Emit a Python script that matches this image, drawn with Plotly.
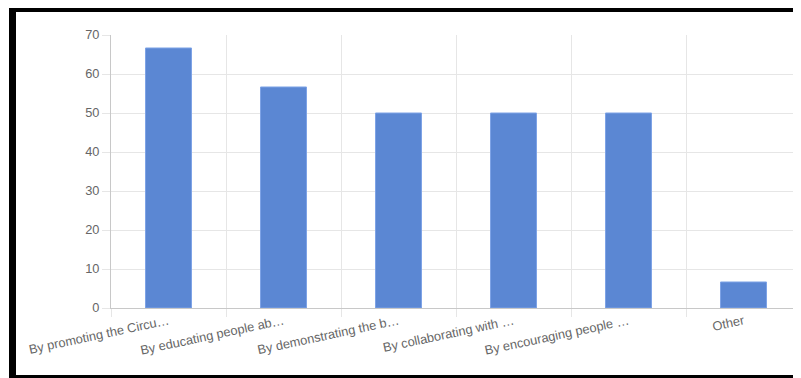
import plotly.graph_objects as go

categories = [
    "By promoting the Circu…",
    "By educating people ab…",
    "By demonstrating the b…",
    "By collaborating with …",
    "By encouraging people …",
    "Other",
]
values = [66.67, 56.67, 50, 50, 50, 6.67]
y_ticks = [0, 10, 20, 30, 40, 50, 60, 70]

# page has an 8px body margin; compensate so the plot lands where the reference has it
OFF = 8
W, H = 801 - OFF, 378 - OFF
L, R, T, B = 111 - OFF, 0, 35 - OFF, 70
pw = W - L - R
ph = H - T - B

def px(x):
    return (x - OFF - L) / pw

def py(y):
    return (H - B - (y - OFF)) / ph

fig = go.Figure(
    go.Bar(
        x=categories,
        y=values,
        marker=dict(color="#5b87d3", line=dict(color="#7ea3e6", width=1)),
        width=0.4,
        hoverinfo="x+y",
    )
)

grid = "#e6e6e6"
fig.update_layout(
    width=W,
    height=H,
    margin=dict(l=L, r=R, t=T, b=B, pad=0),
    paper_bgcolor="white",
    plot_bgcolor="white",
    showlegend=False,
    font=dict(family="Liberation Sans, Arial, sans-serif", size=12, color="#666666"),
    xaxis=dict(
        type="category",
        tickson="boundaries",
        showgrid=True,
        gridcolor=grid,
        gridwidth=1,
        ticks="outside",
        ticklen=8,
        tickcolor=grid,
        tickangle=-12,
        showline=True,
        linecolor="#c8c8c8",
        linewidth=1,
        tickfont=dict(size=12.8, color="#666666"),
        range=[-0.5, 5.5],
        fixedrange=True,
    ),
    yaxis=dict(
        range=[0, 70],
        tickvals=y_ticks,
        showgrid=True,
        gridcolor=grid,
        gridwidth=1,
        ticks="outside",
        ticklen=8,
        tickcolor=grid,
        showline=True,
        linecolor="#c8c8c8",
        linewidth=1,
        zeroline=False,
        tickfont=dict(size=12.8, color="#666666"),
        fixedrange=True,
    ),
    shapes=[
        # black frame: top, left, bottom
        dict(type="rect", xref="paper", yref="paper", x0=px(9), x1=px(801), y0=py(12), y1=py(5),
             fillcolor="black", line=dict(width=0), layer="above"),
        dict(type="rect", xref="paper", yref="paper", x0=px(9), x1=px(16), y0=py(378), y1=py(5),
             fillcolor="black", line=dict(width=0), layer="above"),
        dict(type="rect", xref="paper", yref="paper", x0=px(9), x1=px(801), y0=py(378), y1=py(375),
             fillcolor="black", line=dict(width=0), layer="above"),
    ],
)

fig.write_html("out.html")
